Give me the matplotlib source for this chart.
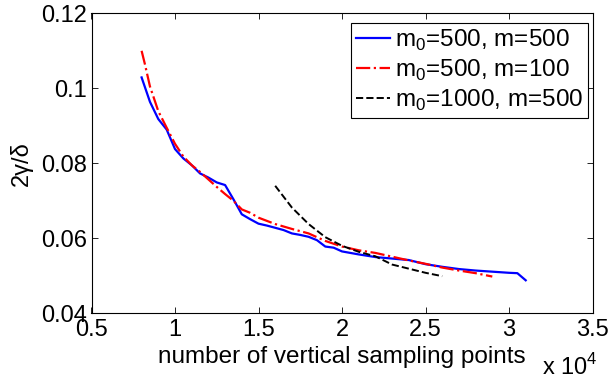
import matplotlib
matplotlib.use("Agg")
import matplotlib.pyplot as plt
from matplotlib.ticker import FuncFormatter

plt.rcParams["font.family"] = ["Liberation Sans", "DejaVu Sans"]
plt.rcParams["mathtext.fontset"] = "custom"
plt.rcParams["mathtext.rm"] = "Liberation Sans"

# m0=500, m=500
x_blue = [8000, 8500, 9000, 9500, 10000, 10500, 11000, 11500, 12000, 12500, 13000, 13500,
          14000, 14500, 15000, 15500, 16000, 16500, 17000, 17500, 18000, 18500, 19000, 19500,
          20000, 21000, 22000, 23000, 24000, 25000, 26000, 27000, 28000, 29000, 30000, 30500, 31000]
y_blue = [0.1029, 0.0964, 0.0918, 0.0890, 0.0838, 0.0813, 0.0795, 0.0773, 0.0762, 0.0749, 0.0742, 0.0704,
          0.0664, 0.0651, 0.0639, 0.0634, 0.0628, 0.0622, 0.0613, 0.0609, 0.0604, 0.0595, 0.0578, 0.0575,
          0.0565, 0.0557, 0.0550, 0.0546, 0.0542, 0.0531, 0.0524, 0.0518, 0.0514, 0.0511, 0.0508, 0.0507, 0.0488]

# m0=500, m=100
x_red = [8000, 8200, 8500, 9000, 9500, 10000, 10500, 11000, 11500, 12000, 12500, 13000, 13500,
         14000, 14500, 15000, 16000, 17000, 18000, 19000, 20000, 21000, 22000, 23000, 24000,
         25000, 26000, 27000, 28000, 29000]
y_red = [0.1100, 0.1064, 0.1005, 0.0939, 0.0895, 0.0852, 0.0818, 0.0795, 0.0777, 0.0757, 0.0737, 0.0718, 0.0700,
         0.0677, 0.0668, 0.0655, 0.0638, 0.0625, 0.0613, 0.0593, 0.0578, 0.0568, 0.0561, 0.0551, 0.0541,
         0.0532, 0.0522, 0.0514, 0.0507, 0.0498]

# m0=1000, m=500
x_black = [16000, 17000, 18000, 19000, 20000, 21000, 22000, 23000, 24000, 25000, 26000]
y_black = [0.0740, 0.0682, 0.0638, 0.0603, 0.0580, 0.0564, 0.0552, 0.0530, 0.0519, 0.0508, 0.0499]

labels = ["m$_0$=500, m=500", "m$_0$=500, m=100", "m$_0$=1000, m=500"]
x_ticks = [5000, 10000, 15000, 20000, 25000, 30000, 35000]
y_ticks = [0.04, 0.06, 0.08, 0.1, 0.12]

FS = 17.5
W, H = 608, 379
fig = plt.figure(figsize=(W / 100, H / 100), dpi=100)
# axes box in pixels: x 91.5..592.5, y 13.3..313.3
ax = fig.add_axes([91.5 / W, 1 - 313.3 / H, 501 / W, 300 / H])

ax.plot(x_blue, y_blue, color="#0000ff", linewidth=1.6, label=labels[0])
ax.plot(x_red, y_red, color="#ff0000", linestyle="-.", linewidth=1.6, label=labels[1])
ax.plot(x_black, y_black, color="black", linestyle="--", linewidth=1.4, label=labels[2])

ax.set_xlim(5000, 35000)
ax.set_ylim(0.04, 0.12)
ax.set_xticks(x_ticks)
ax.set_yticks(y_ticks)
ax.xaxis.set_major_formatter(FuncFormatter(lambda v, p: "%g" % (v / 1e4)))
ax.yaxis.set_major_formatter(FuncFormatter(lambda v, p: "%g" % v))
ax.tick_params(direction="in", top=True, right=True, length=4, width=0.6, labelsize=17)
ax.tick_params(axis="x", pad=4)
ax.tick_params(axis="y", pad=3)
for s in ax.spines.values():
    s.set_linewidth(0.8)

ax.set_ylabel("2γ/δ", fontsize=17)
ax.yaxis.set_label_coords((33 - 91.5) / 501, 0.5)
fig.text(342 / W, 1 - 357 / H, "number of vertical sampling points", fontsize=FS,
         ha="center", va="center")
fig.text(598 / W, 1 - 375 / H, "x 10$^4$", fontsize=17, ha="right", va="baseline")

leg = ax.legend(loc="upper right", bbox_to_anchor=(588 / W, 1 - 22.7 / H),
                bbox_transform=fig.transFigure, borderaxespad=0,
                frameon=True, fancybox=False, framealpha=1, edgecolor="black",
                handlelength=1.4, handletextpad=0.2, labelspacing=0.2, borderpad=0.2,
                fontsize=FS)
leg.get_frame().set_linewidth(0.8)

fig.savefig("out.png", dpi=100)
